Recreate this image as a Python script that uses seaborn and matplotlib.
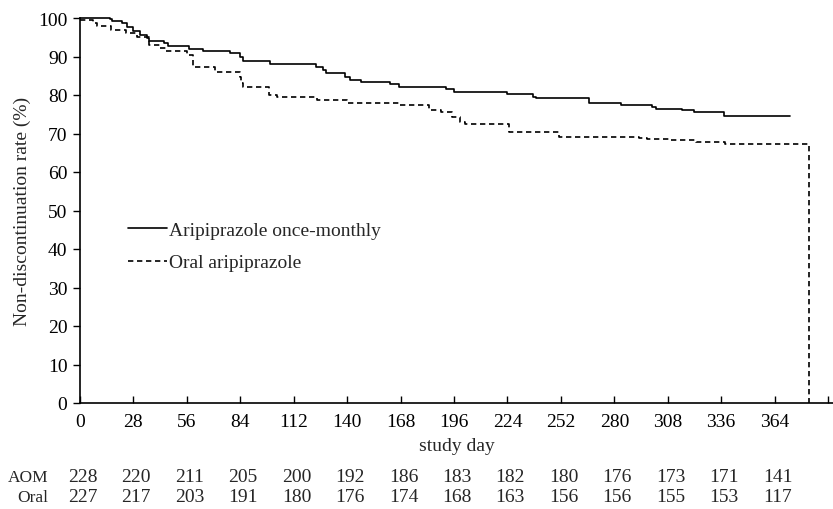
import numpy as np
import pandas as pd
import matplotlib
matplotlib.use("Agg")
import matplotlib.pyplot as plt
import seaborn as sns

# ---- data ----
aom_days = [0, 15.7, 16.6, 21.8, 24.4, 27.9, 31.5, 35.2, 36.3, 44, 46.2, 57.2, 64.5, 72.9,
            78.5, 83.7, 85.5, 99.8, 123.8, 127.3, 129.1, 138.7, 141.3, 147.4, 162.2,
            167.4, 191.9, 196.2, 223.6, 237.2, 239, 266.9, 283.4, 300, 301.8, 315.7,
            321.8, 337.5, 371.9]
aom_rate = [100.0, 99.8, 99.1, 98.7, 97.6, 96.5, 95.6, 94.8, 93.9, 93.5, 92.8, 91.9, 91.5,
            91.3, 90.9, 90.0, 88.9, 88.0, 87.4, 86.5, 85.7, 84.8, 83.9, 83.5, 82.8, 82.1,
            81.5, 80.7, 80.2, 79.6, 79.2, 78.0, 77.3, 76.8, 76.4, 76.0, 75.7, 74.6, 74.6]

oral_days = [0, 7, 9, 16, 24, 30, 36, 42, 45, 56, 59, 71, 84, 84.6, 85.5, 99, 103, 124,
             140, 167, 183, 189, 195, 199, 202, 225, 251, 293, 297, 309, 323, 338, 382, 382]
oral_rate = [99.6, 98.8, 97.8, 97.0, 96.1, 95.0, 93.1, 92.2, 91.3, 90.3, 87.4, 85.9, 84.8,
             83.1, 82.2, 80.0, 79.6, 78.7, 77.9, 77.3, 76.1, 75.5, 74.4, 73.1, 72.4, 70.5,
             69.2, 68.9, 68.6, 68.3, 67.9, 67.4, 67.4, 0.0]

group_labels = ["Aripiprazole once-monthly", "Oral aripiprazole"]
risk_days = [0, 28, 56, 84, 112, 140, 168, 196, 224, 252, 280, 308, 336, 364]
aom_at_risk = [228, 220, 211, 205, 200, 192, 186, 183, 182, 180, 176, 173, 171, 141]
oral_at_risk = [227, 217, 203, 191, 180, 176, 174, 168, 163, 156, 156, 155, 153, 117]
risk_row_labels = ["AOM", "Oral"]

x_ticks = list(range(0, 393, 28))
x_tick_labels = [str(t) if t <= 364 else "" for t in x_ticks]
y_ticks = list(range(0, 101, 10))

df = pd.concat([
    pd.DataFrame({"day": aom_days, "rate": aom_rate, "group": group_labels[0]}),
    pd.DataFrame({"day": oral_days, "rate": oral_rate, "group": group_labels[1]}),
], ignore_index=True)

# ---- plotting ----
sns.set_theme(style="white")
plt.rcParams["font.family"] = ["Liberation Serif", "DejaVu Serif"]

FS = 14
W, H = 833, 510
fig = plt.figure(figsize=(W / 100, H / 100), dpi=100)
ax = fig.add_axes([80 / W, 1 - 404 / H, (W - 80) / W, (404 - 19) / H])

sns.lineplot(data=df, x="day", y="rate", style="group",
             dashes={group_labels[0]: "", group_labels[1]: (3.2, 2.2)},
             color="black", estimator=None, sort=False, drawstyle="steps-post",
             linewidth=1.2, legend=False, ax=ax)
for ln in ax.lines:
    ln.set_clip_on(False)

ax.set_xlim(0, 394.6)
ax.set_ylim(0, 100)
ax.set_xticks(x_ticks)
ax.set_xticklabels(x_tick_labels)
ax.set_yticks(y_ticks)

for s in ["top", "right"]:
    ax.spines[s].set_visible(False)
for s in ["left", "bottom"]:
    ax.spines[s].set_color("black")
    ax.spines[s].set_linewidth(1.2)

ax.tick_params(axis="x", direction="in", length=5, width=1, colors="black",
               labelsize=FS, pad=7, bottom=True)
ax.tick_params(axis="y", direction="out", length=5, width=1, colors="black",
               labelsize=FS, pad=4, left=True)
ax.set_xlabel("study day", fontsize=FS, labelpad=5)
ax.set_ylabel("Non-discontinuation rate (%)", fontsize=FS, labelpad=5)

leg = ax.legend(handles=ax.lines[:2], labels=group_labels, frameon=False,
                fontsize=FS, handlelength=2.0, handletextpad=0.1,
                labelspacing=0.78, borderpad=0, borderaxespad=0,
                loc="upper left", bbox_to_anchor=(128 / W, 1 - 222 / H),
                bbox_transform=fig.transFigure)

# number at risk rows
trans = matplotlib.transforms.blended_transform_factory(ax.transData, fig.transFigure)
row_y = [1 - 478 / H, 1 - 498 / H]
for yy, lab, vals in zip(row_y, risk_row_labels, [aom_at_risk, oral_at_risk]):
    fig.text(48 / W, yy, lab, ha="right", va="center", fontsize=12.5)
    for d, v in zip(risk_days, vals):
        ax.text(d + 1.5, yy, str(v), transform=trans, ha="center", va="center",
                fontsize=FS, clip_on=False)

fig.savefig("out.png", dpi=100, facecolor="white")
